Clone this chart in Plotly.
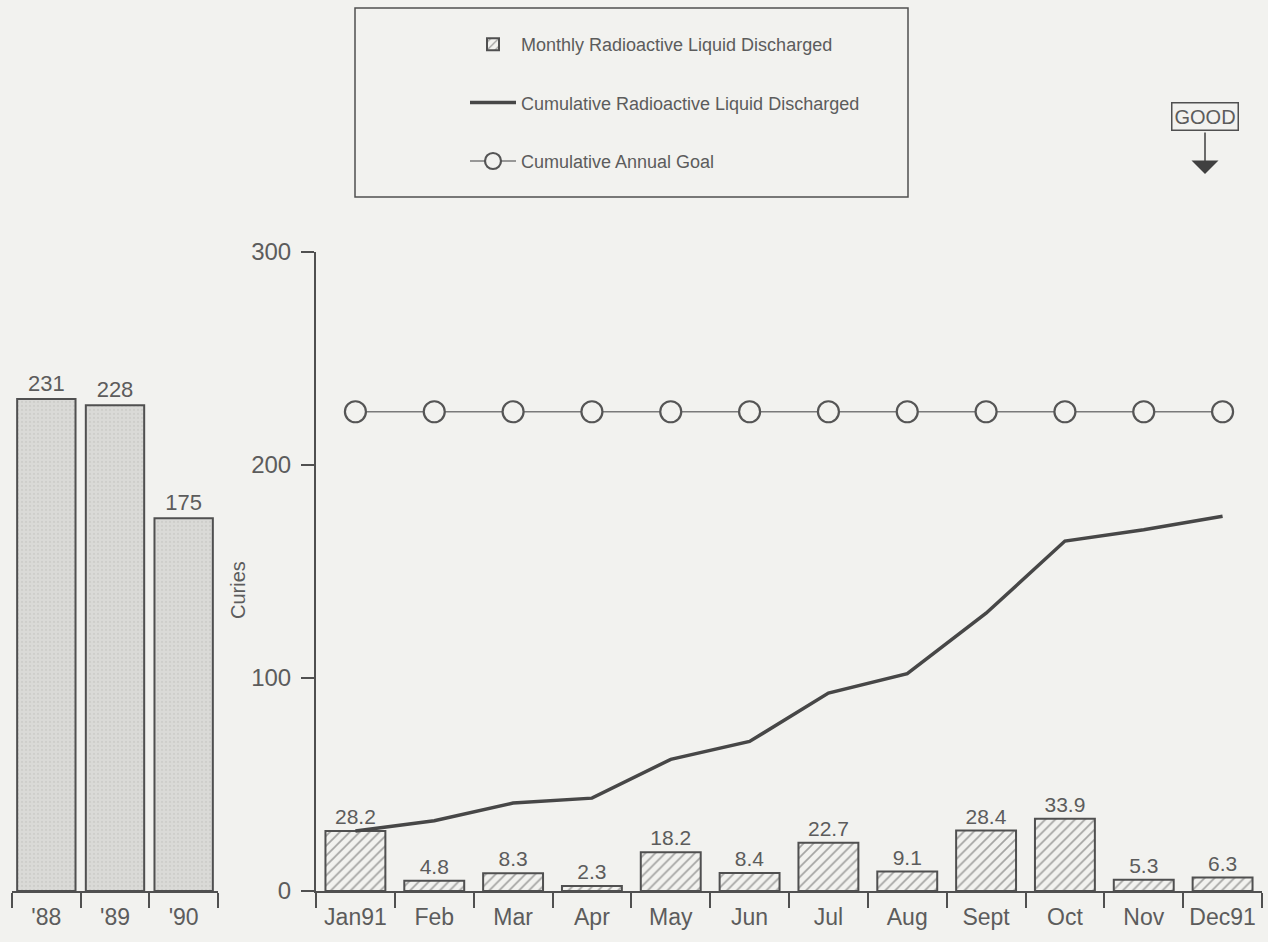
import plotly.graph_objects as go

W, H = 1268, 942

years = ["'88", "'89", "'90"]
year_values = [231, 228, 175]

months = ["Jan91", "Feb", "Mar", "Apr", "May", "Jun", "Jul", "Aug", "Sept", "Oct", "Nov", "Dec91"]
monthly = [28.2, 4.8, 8.3, 2.3, 18.2, 8.4, 22.7, 9.1, 28.4, 33.9, 5.3, 6.3]
cumulative = [28.2, 33.0, 41.3, 43.6, 61.8, 70.2, 92.9, 102.0, 130.4, 164.3, 169.6, 175.9]
goal = [225] * 12

y_ticks = [0, 100, 200, 300]

BG = "#f2f2ef"
INK = "#505050"
TXT = "#5c5c5c"
FONT = "Liberation Sans"

def px(x):
    return x / W

def py(y):
    return 1 - y / H

fig = go.Figure()

# Left panel: annual totals
fig.add_trace(go.Bar(
    x=years, y=year_values, xaxis="x", yaxis="y",
    width=0.85,
    marker=dict(color="#d9d9d6", line=dict(color=INK, width=2),
                pattern=dict(shape=".", fgcolor="#c2c2be", bgcolor="#dadad7", size=4, solidity=0.25)),
    text=[str(v) for v in year_values], textposition="outside",
    textfont=dict(size=22, color=TXT, family=FONT),
    cliponaxis=False, showlegend=False, hoverinfo="skip"))

# Right panel: monthly
fig.add_trace(go.Bar(
    x=months, y=monthly, xaxis="x2", yaxis="y2",
    width=0.76, name="Monthly Radioactive Liquid Discharged",
    legendgroup="a",
    marker=dict(color=BG, line=dict(color=INK, width=2),
                pattern=dict(shape="/", fgcolor="#555555", bgcolor=BG, size=7, solidity=0.24)),
    text=[f"{v:.1f}" for v in monthly], textposition="outside",
    textfont=dict(size=21, color=TXT, family=FONT),
    cliponaxis=False))

fig.add_trace(go.Scatter(
    x=months, y=cumulative, xaxis="x2", yaxis="y2",
    mode="lines", name="Cumulative Radioactive Liquid Discharged",
    legendgroup="b",
    line=dict(color="#474747", width=3.5)))

fig.add_trace(go.Scatter(
    x=months, y=goal, xaxis="x2", yaxis="y2",
    mode="lines+markers", name="Cumulative Annual Goal",
    legendgroup="c",
    line=dict(color="#7a7a7a", width=1.5),
    marker=dict(symbol="circle", size=21, color=BG, line=dict(color="#555555", width=2.2))))

ydom = [py(891), py(252)]

axis_x_common = dict(type="category", showline=True, linecolor=INK, linewidth=2,
                     ticks="outside", tickson="boundaries", ticklen=15, tickwidth=1.5,
                     tickcolor=INK, tickfont=dict(size=23, color=TXT, family=FONT),
                     tickangle=0, automargin=False,
                     ticklabelstandoff=4, showgrid=False, zeroline=False)

fig.update_layout(
    width=W, height=H,
    paper_bgcolor=BG, plot_bgcolor=BG,
    margin=dict(l=0, r=0, t=0, b=0),
    font=dict(family=FONT, color=TXT),
    xaxis=dict(domain=[px(12), px(218)], range=[-0.5, len(years) - 0.5], **axis_x_common),
    yaxis=dict(domain=ydom, range=[0, 300], visible=False, showgrid=False, automargin=False),
    xaxis2=dict(domain=[px(316), px(1262)], anchor="y2", range=[-0.5, len(months) - 0.5],
                **axis_x_common),
    yaxis2=dict(domain=ydom, range=[0, 300], anchor="x2", automargin=False,
                showline=True, linecolor=INK, linewidth=2,
                tickvals=y_ticks, ticks="outside", ticklen=13, tickwidth=1.5, tickcolor=INK,
                ticklabelstandoff=5,
                tickfont=dict(size=24, color=TXT, family=FONT), showgrid=False, zeroline=False),
    legend=dict(x=px(465), y=py(26), xanchor="left", yanchor="top",
                bgcolor="rgba(0,0,0,0)", borderwidth=0,
                font=dict(size=18, color=TXT, family=FONT),
                traceorder="grouped", tracegroupgap=32, itemwidth=46),
    shapes=[dict(type="rect", xref="paper", yref="paper",
                 x0=px(355), x1=px(908), y0=py(197), y1=py(8),
                 line=dict(color=INK, width=1.5))],
    annotations=[
        dict(text="Curies", xref="paper", yref="paper", x=px(238), y=py(590),
             xanchor="center", yanchor="middle", textangle=-90, showarrow=False,
             font=dict(size=20, color=TXT, family=FONT)),
        dict(text="GOOD", xref="paper", yref="paper", x=px(1205), y=py(117),
             xanchor="center", yanchor="middle",
             showarrow=False, font=dict(size=20, color=TXT, family=FONT),
             bordercolor=INK, borderwidth=1.5, borderpad=2, bgcolor=BG),
        dict(text="", xref="paper", yref="paper", x=px(1205), y=py(174),
             xanchor="center", yanchor="middle",
             ax=0, ay=-43, showarrow=True, arrowhead=1, arrowsize=3,
             arrowwidth=1.5, arrowcolor="#404040"),
    ],
)

fig.write_html(
    "out.html",
    config={"displayModeBar": False},
    post_script="document.body.style.margin='0px';document.body.style.padding='0px';"
                "document.body.style.overflow='hidden';",
)
